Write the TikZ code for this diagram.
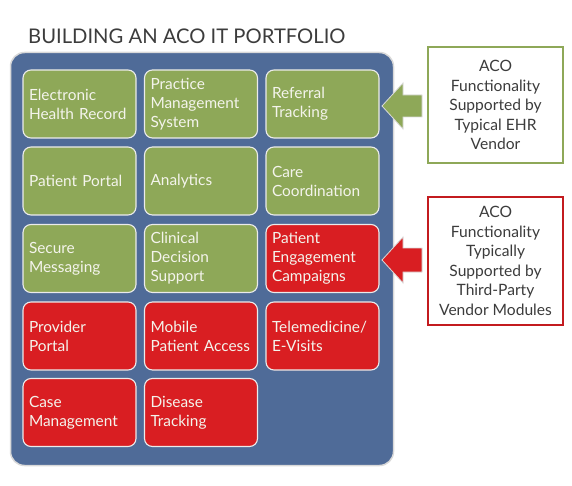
\documentclass[tikz,border=0pt]{standalone}
\usepackage{fontspec}
\setmainfont{Lato}
\definecolor{panelblue}{HTML}{4F6B98}
\definecolor{boxgreen}{HTML}{8EA858}
\definecolor{boxred}{HTML}{D91E22}
\definecolor{txtgray}{HTML}{3C3C3C}
\definecolor{boxtext}{HTML}{F4F4EC}
\begin{document}
\begin{tikzpicture}[x=1pt,y=-1pt,
  tile/.style={draw=white!92!black, line width=1.1pt, rounded corners=8pt,
    minimum width=113pt, minimum height=68pt, text width=101pt, inner xsep=6pt,
    align=left, text=boxtext, font=\fontsize{15.4}{19}\selectfont},
  gtile/.style={tile, fill=boxgreen},
  rtile/.style={tile, fill=boxred},
  legend/.style={fill=white, line width=1.6pt, minimum width=135pt, align=center,
    text=txtgray, font=\fontsize{15.6}{19.5}\selectfont},
  arrowshape/.style={draw=white!85!black, line width=0.8pt}
]
\useasboundingbox (0,0) rectangle (572,486);
\node[anchor=base west, text=txtgray, font=\fontsize{20.2}{23}\selectfont, inner sep=0pt] (title) at (28,44) {BUILDING AN ACO IT PORTFOLIO};
\node[draw=black!15, line width=1.5pt, fill=panelblue, rounded corners=14pt,
  minimum width=383pt, minimum height=413pt, inner sep=0pt] (panel) at (202,259) {};
% row 1
\node[gtile] (ehr) at (79.5,104) {Electronic\\Health Record};
\node[gtile] (pms) at (201,104) {Practice\\Management\\System};
\node[gtile] (ref) at (322.5,104) {Referral\\Tracking};
% row 2
\node[gtile] (pp) at (79.5,181) {Patient Portal};
\node[gtile] (ana) at (201,181) {Analytics};
\node[gtile] (cc) at (322.5,181) {Care\\Coordination};
% row 3
\node[gtile] (sm) at (79.5,258.5) {Secure\\Messaging};
\node[gtile] (cds) at (201,258.5) {Clinical\\Decision\\Support};
\node[rtile] (pec) at (322.5,258.5) {Patient\\Engagement\\Campaigns};
% row 4
\node[rtile] (prov) at (79.5,336) {Provider\\Portal};
\node[rtile] (mob) at (201,336) {Mobile\\\mbox{Patient Access}};
\node[rtile] (tele) at (322.5,336) {\mbox{Telemedicine/}\\E-Visits};
% row 5
\node[rtile] (case) at (79.5,412.5) {Case\\Management};
\node[rtile] (dis) at (201,412.5) {Disease\\Tracking};
% legends
\node[legend, draw=boxgreen, minimum height=116pt] (leg1) at (495.5,105) {ACO\\Functionality\\Supported by\\Typical EHR\\Vendor};
\node[legend, draw=boxred!90!black, minimum height=128pt] (leg2) at (495.5,261) {ACO\\Functionality\\Typically\\Supported by\\Third-Party\\Vendor Modules};
% arrows
\coordinate (g) at (382,106);
\filldraw[arrowshape, fill=boxgreen] (g) -- ++(21,-23) -- ++(0,12) -- ++(19,0) -- ++(0,22) -- ++(-19,0) -- ++(0,12) -- cycle;
\coordinate (r) at (382,260);
\filldraw[arrowshape, fill=boxred] (r) -- ++(21,-23) -- ++(0,11) -- ++(19,0) -- ++(0,24) -- ++(-19,0) -- ++(0,11) -- cycle;
\end{tikzpicture}
\end{document}
